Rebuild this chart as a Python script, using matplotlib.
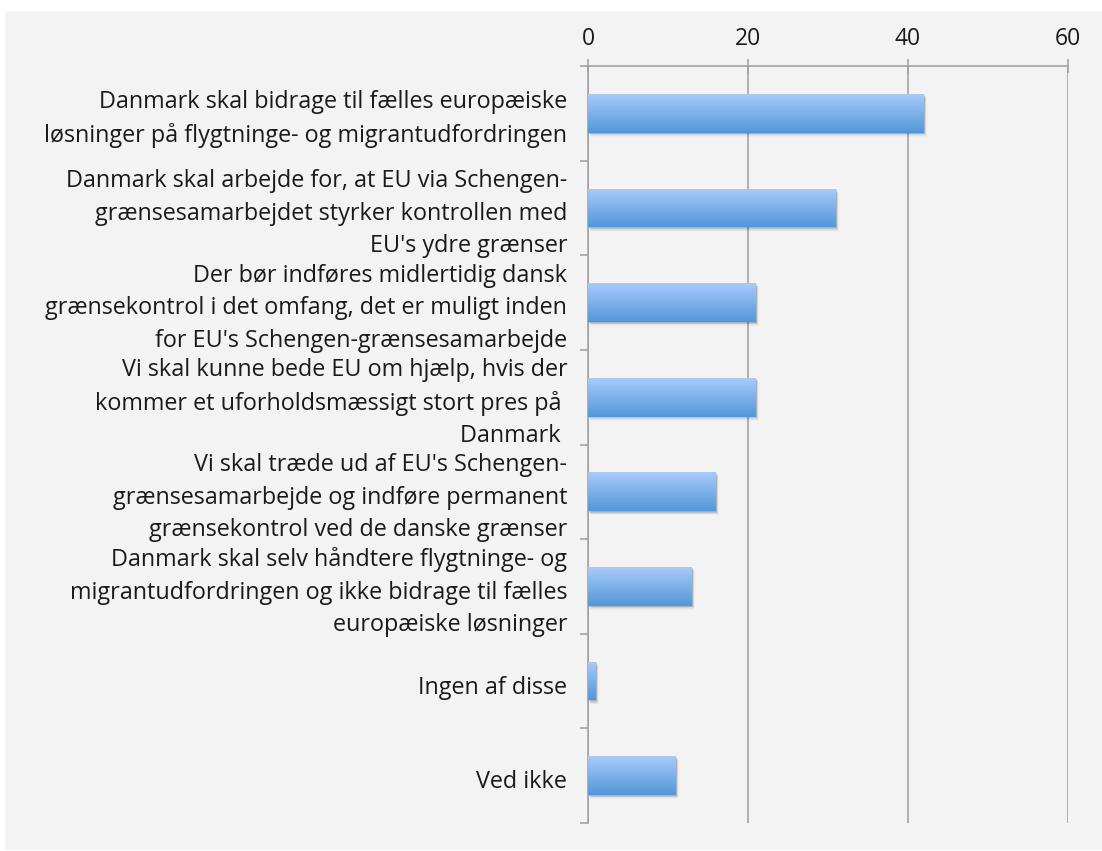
import matplotlib
matplotlib.use("Agg")
import matplotlib.pyplot as plt
import matplotlib.transforms as mtransforms
from matplotlib.patches import Rectangle
import numpy as np

categories = [
    "Danmark skal bidrage til fælles europæiske\nløsninger på flygtninge- og migrantudfordringen",
    "Danmark skal arbejde for, at EU via Schengen-\ngrænsesamarbejdet styrker kontrollen med\nEU's ydre grænser",
    "Der bør indføres midlertidig dansk\ngrænsekontrol i det omfang, det er muligt inden\nfor EU's Schengen-grænsesamarbejde",
    "Vi skal kunne bede EU om hjælp, hvis der\nkommer et uforholdsmæssigt stort pres på \nDanmark ",
    "Vi skal træde ud af EU's Schengen-\ngrænsesamarbejde og indføre permanent\ngrænsekontrol ved de danske grænser",
    "Danmark skal selv håndtere flygtninge- og\nmigrantudfordringen og ikke bidrage til fælles\neuropæiske løsninger",
    "Ingen af disse",
    "Ved ikke",
]
values = [42, 31, 21, 21, 16, 13, 1, 11]
x_ticks = [0, 20, 40, 60]

W, H = 1102, 851
fig = plt.figure(figsize=(W / 100, H / 100), dpi=100, facecolor="white")
# grey panel
fig.patches.append(Rectangle((5 / W, 1 / H), 1 - 5 / W, (H - 12) / H, transform=fig.transFigure,
                             facecolor="#f3f3f3", edgecolor="none", zorder=-10))

ax = fig.add_axes([588 / W, (H - 823) / H, (1068 - 588) / W, (823 - 66) / H])
ax.set_facecolor("none")
ax.set_zorder(1)

FONT = "Open Sans"
TXT = "#1a1a1a"
GRID = "#a3a3a3"

n = len(values)
ypos = np.arange(n)
bars = ax.barh(ypos, values, height=0.41, color="none", edgecolor="none", zorder=3)
ax.set_xlim(0, 60)
ax.set_ylim(n - 0.5, -0.5)

# gradient fill
grad = np.linspace(0, 1, 256).reshape(-1, 1)
top = np.array([0xa8, 0xcb, 0xfb]) / 255
bot = np.array([0x52, 0x97, 0xd9]) / 255
img = top[None, None, :] * (1 - grad[..., None]) + bot[None, None, :] * grad[..., None]

for b in bars:
    x0, y0 = b.get_x(), b.get_y()
    w, h = b.get_width(), b.get_height()
    # shadow
    for k, a in [(1, 0.10), (2, 0.08), (3, 0.06), (4, 0.04), (5, 0.025)]:
        tr = mtransforms.offset_copy(ax.transData, fig=fig, x=k * 0.6, y=-k * 0.8, units="dots")
        ax.add_patch(Rectangle((x0, y0), w, h, transform=tr, facecolor="black",
                               alpha=a, edgecolor="none", zorder=2))
    im = ax.imshow(img, extent=[x0, x0 + w, y0, y0 + h], origin="lower",
                   aspect="auto", zorder=3, interpolation="bilinear")
    im.set_clip_path(b)

ax.set_xlim(0, 60)
ax.set_ylim(n - 0.5, -0.5)

# grid and axes
ax.set_xticks(x_ticks)
ax.xaxis.tick_top()
ax.grid(axis="x", color=GRID, linewidth=1.2, zorder=1)
ax.set_axisbelow(True)
for s in ["right", "bottom"]:
    ax.spines[s].set_visible(False)
for s in ["left", "top"]:
    ax.spines[s].set_color(GRID)
    ax.spines[s].set_linewidth(1.2)
ax.tick_params(axis="x", direction="inout", length=10, width=1.2, color=GRID, pad=6,
               labelsize=16.5, labelcolor=TXT)

nlines = np.array([c.count("\n") + 1 for c in categories])
label_shift = np.where(nlines > 1, -0.015, 0.04)
ax.set_yticks(ypos + label_shift)
ax.set_yticklabels(categories, fontsize=16.8, color=TXT, fontfamily=FONT,
                   multialignment="right", linespacing=1.47)
ax.set_yticks(np.arange(n + 1) - 0.5, minor=True)
ax.tick_params(axis="y", which="major", length=0, pad=15)
ax.tick_params(axis="y", which="minor", direction="out", length=6, width=1.2, color=GRID)
for lbl in ax.get_xticklabels():
    lbl.set_fontfamily(FONT)

fig.savefig("out.png", dpi=100, facecolor="white")
